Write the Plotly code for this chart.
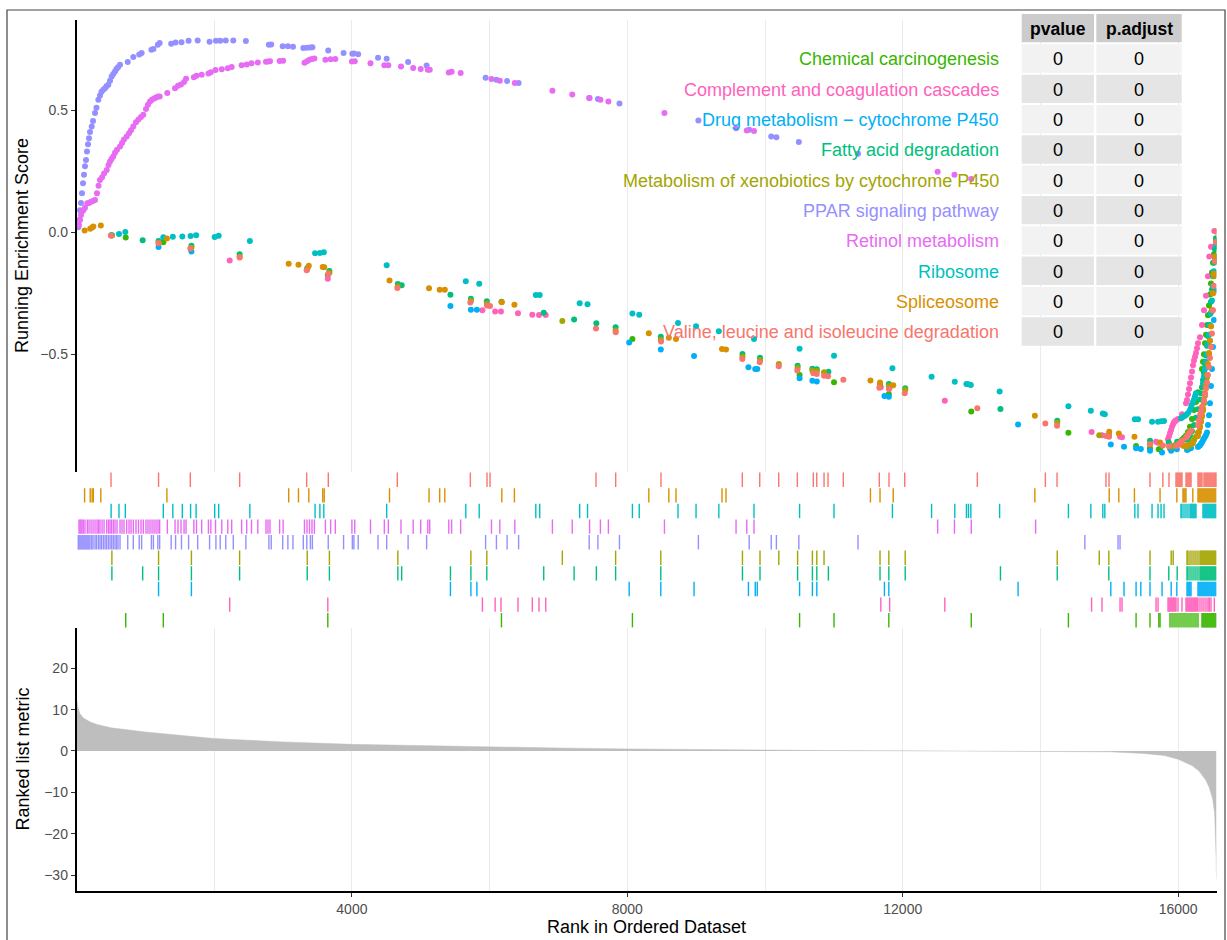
import plotly.graph_objects as go

W, H = 1227, 940
N_GENES = 16557

set_names = [
    "Chemical carcinogenesis",
    "Complement and coagulation cascades",
    "Drug metabolism \u2212 cytochrome P450",
    "Fatty acid degradation",
    "Metabolism of xenobiotics by cytochrome P450",
    "PPAR signaling pathway",
    "Retinol metabolism",
    "Ribosome",
    "Spliceosome",
    "Valine, leucine and isoleucine degradation",
]
set_colors = ["#39B600", "#FF62BC", "#00B0F6", "#00BF7D", "#A3A500",
              "#9590FF", "#E76BF3", "#00BFC4", "#D89000", "#F8766D"]
pvalue_text = ["0", "0", "0", "0", "0", "0", "0", "0", "0", "0"]
padjust_text = ["0", "0", "0", "0", "0", "0", "0", "0", "0", "0"]

# (rank of hit, running enrichment score)
chem_points = [(715, -0.022), (1261, -0.041), (3650, -0.175), (6172, -0.285), (8074, -0.437),
               (10502, -0.585), (11002, -0.614), (11798, -0.664), (12995, -0.734), (14406, -0.821),
               (15389, -0.876), (15591, -0.885), (15719, -0.889), (15737, -0.889), (15882, -0.886),
               (15911, -0.880), (15940, -0.875), (15969, -0.870), (15998, -0.864), (16027, -0.857),
               (16056, -0.850), (16085, -0.842), (16114, -0.833), (16143, -0.818), (16172, -0.797),
               (16201, -0.765), (16230, -0.728), (16259, -0.695), (16288, -0.655), (16346, -0.560),
               (16361, -0.530), (16375, -0.500), (16390, -0.455), (16404, -0.420), (16419, -0.380),
               (16433, -0.340), (16448, -0.300), (16462, -0.255), (16477, -0.210), (16491, -0.165),
               (16506, -0.125), (16520, -0.090), (16535, -0.060), (16549, -0.035)]

compl_points = [(2225, -0.116), (3650, -0.191), (5895, -0.320), (6080, -0.325), (6165, -0.325),
                (6412, -0.332), (6620, -0.338), (6717, -0.339), (6815, -0.339), (11682, -0.635),
                (11810, -0.636), (12611, -0.690), (14743, -0.818), (14894, -0.831), (15156, -0.838),
                (15185, -0.840), (15679, -0.858), (15708, -0.862), (15853, -0.848), (15868, -0.836),
                (15882, -0.822), (15897, -0.810), (15911, -0.797), (15926, -0.786), (15940, -0.778),
                (15955, -0.774), (15969, -0.770), (15998, -0.765), (16056, -0.745), (16114, -0.700),
                (16129, -0.687), (16143, -0.665), (16158, -0.642), (16172, -0.619), (16187, -0.595),
                (16201, -0.570), (16216, -0.545), (16230, -0.525), (16245, -0.510), (16259, -0.495),
                (16274, -0.475), (16288, -0.455), (16317, -0.430), (16346, -0.380), (16375, -0.320),
                (16404, -0.260), (16433, -0.180), (16452, -0.100), (16477, -0.060), (16525, 0.005)]

drug_points = [(1192, -0.061), (1669, -0.079), (5431, -0.302), (5728, -0.318), (5815, -0.318),
               (8027, -0.452), (8486, -0.480), (8969, -0.507), (9759, -0.553), (9858, -0.560),
               (9887, -0.560), (10502, -0.598), (10688, -0.608), (10752, -0.611), (11734, -0.671),
               (11798, -0.674), (13675, -0.787), (15022, -0.869), (15214, -0.879), (15389, -0.885),
               (15458, -0.888), (15591, -0.895), (15766, -0.902), (15899, -0.895), (15981, -0.889),
               (16129, -0.892), (16143, -0.889), (16158, -0.887), (16172, -0.885), (16187, -0.884),
               (16288, -0.880), (16303, -0.876), (16317, -0.872), (16332, -0.866), (16346, -0.860),
               (16361, -0.852), (16375, -0.845), (16390, -0.838), (16404, -0.830), (16419, -0.820),
               (16433, -0.790), (16448, -0.750), (16462, -0.700), (16477, -0.630), (16491, -0.560),
               (16506, -0.470), (16520, -0.360), (16535, -0.240), (16549, -0.120)]

fatty_points = [(514, -0.012), (961, -0.033), (1192, -0.036), (1669, -0.055), (2369, -0.090),
                (3351, -0.148), (3673, -0.159), (4667, -0.212), (4723, -0.217), (5431, -0.256),
                (5728, -0.273), (5959, -0.283), (6786, -0.330), (7227, -0.357), (7550, -0.373),
                (7830, -0.389), (8486, -0.428), (9672, -0.499), (9927, -0.514), (10473, -0.547),
                (10688, -0.559), (10752, -0.561), (10920, -0.571), (11670, -0.626), (11798, -0.622),
                (12036, -0.639), (13419, -0.724), (14244, -0.772), (14993, -0.829), (15591, -0.854),
                (15864, -0.861), (15986, -0.858), (16129, -0.850), (16143, -0.846), (16172, -0.835),
                (16201, -0.815), (16230, -0.790), (16259, -0.760), (16288, -0.725), (16317, -0.685),
                (16332, -0.660), (16346, -0.635), (16361, -0.605), (16375, -0.575), (16390, -0.540),
                (16404, -0.505), (16419, -0.465), (16433, -0.425), (16448, -0.380), (16462, -0.335),
                (16477, -0.285), (16491, -0.235), (16506, -0.180), (16520, -0.125), (16535, -0.070),
                (16549, -0.025)]

xeno_points = [(514, -0.013), (1192, -0.043), (1669, -0.064), (2369, -0.101), (3351, -0.152),
               (3673, -0.166), (4667, -0.222), (5728, -0.281), (5959, -0.293), (7056, -0.364),
               (7830, -0.403), (8486, -0.440), (9672, -0.510), (9927, -0.524), (10200, -0.540),
               (10473, -0.556), (10688, -0.566), (10752, -0.568), (10857, -0.573), (11670, -0.624),
               (11798, -0.630), (12036, -0.645), (14244, -0.780), (14854, -0.831), (14993, -0.835),
               (15591, -0.868), (15899, -0.878), (15928, -0.876), (16129, -0.879), (16143, -0.876),
               (16172, -0.870), (16201, -0.862), (16230, -0.852), (16259, -0.838), (16288, -0.820),
               (16317, -0.795), (16332, -0.775), (16346, -0.755), (16361, -0.730), (16375, -0.700),
               (16390, -0.670), (16404, -0.635), (16419, -0.595), (16433, -0.550), (16448, -0.500),
               (16462, -0.445), (16477, -0.385), (16491, -0.320), (16506, -0.250), (16520, -0.180),
               (16535, -0.110), (16549, -0.045)]

ppar_points = [(26, 0.020), (36, 0.050), (51, 0.090), (65, 0.120), (80, 0.160), (94, 0.200),
               (109, 0.235), (123, 0.270), (138, 0.296), (152, 0.330), (167, 0.360), (182, 0.385),
               (196, 0.410), (221, 0.433), (240, 0.455), (269, 0.488), (290, 0.510), (317, 0.542),
               (341, 0.560), (363, 0.575), (389, 0.583), (414, 0.590), (436, 0.598), (462, 0.604),
               (487, 0.620), (511, 0.638), (534, 0.648), (559, 0.658), (581, 0.668), (603, 0.676),
               (632, 0.686), (744, 0.697), (825, 0.717), (911, 0.728), (946, 0.734), (1088, 0.747),
               (1117, 0.750), (1181, 0.768), (1208, 0.775), (1375, 0.772), (1439, 0.777),
               (1525, 0.778), (1628, 0.784), (1760, 0.785), (1933, 0.780), (2025, 0.784),
               (2087, 0.784), (2168, 0.785), (2277, 0.785), (2460, 0.783), (2794, 0.768),
               (2828, 0.769), (2995, 0.761), (3070, 0.761), (3144, 0.759), (3294, 0.754),
               (3345, 0.755), (3397, 0.756), (3426, 0.757), (3656, 0.744), (3879, 0.734),
               (4006, 0.731), (4029, 0.732), (4091, 0.729), (4379, 0.714), (4505, 0.710),
               (4816, 0.697), (5085, 0.683), (5942, 0.632), (6099, 0.624), (6254, 0.619),
               (6421, 0.611), (7446, 0.550), (7573, 0.545), (7886, 0.527), (9032, 0.457),
               (9770, 0.420), (10090, 0.392), (10165, 0.389), (10491, 0.369), (11350, 0.321),
               (14645, 0.185), (15127, 0.170), (15156, 0.172)]

retinol_points = [(36, 0.030), (51, 0.050), (65, 0.070), (80, 0.085), (99, 0.090), (123, 0.100),
                  (157, 0.119), (182, 0.120), (211, 0.125), (240, 0.128), (269, 0.132), (298, 0.160),
                  (320, 0.190), (341, 0.214), (371, 0.225), (400, 0.240), (439, 0.255), (465, 0.275),
                  (487, 0.290), (508, 0.300), (534, 0.310), (559, 0.325), (588, 0.338), (632, 0.351),
                  (661, 0.365), (690, 0.380), (729, 0.392), (763, 0.405), (792, 0.418), (825, 0.433),
                  (864, 0.450), (900, 0.462), (937, 0.472), (970, 0.481), (1009, 0.505), (1038, 0.522),
                  (1067, 0.535), (1097, 0.542), (1126, 0.548), (1155, 0.552), (1184, 0.556),
                  (1208, 0.556), (1319, 0.570), (1431, 0.590), (1474, 0.600), (1518, 0.605),
                  (1562, 0.615), (1591, 0.628), (1704, 0.635), (1743, 0.641), (1818, 0.645),
                  (1916, 0.650), (1951, 0.655), (2019, 0.664), (2110, 0.667), (2197, 0.671),
                  (2254, 0.677), (2398, 0.684), (2472, 0.687), (2542, 0.692), (2633, 0.695),
                  (2752, 0.698), (2781, 0.699), (2810, 0.700), (2950, 0.701), (3001, 0.702),
                  (3311, 0.694), (3348, 0.700), (3384, 0.706), (3420, 0.709), (3455, 0.711),
                  (3615, 0.706), (3691, 0.708), (3759, 0.709), (4000, 0.699), (4041, 0.700),
                  (4270, 0.692), (4471, 0.684), (4529, 0.684), (4713, 0.679), (4890, 0.672),
                  (4999, 0.668), (5102, 0.665), (5130, 0.665), (5407, 0.654), (5448, 0.657),
                  (5579, 0.652), (6027, 0.627), (6148, 0.620), (6366, 0.611), (6912, 0.579),
                  (7200, 0.564), (7452, 0.550), (7609, 0.542), (7725, 0.535), (8539, 0.488),
                  (9579, 0.426), (9735, 0.416), (9840, 0.414), (12507, 0.248), (12751, 0.235),
                  (12995, 0.218), (13930, 0.190)]

ribo_points = [(503, -0.012), (617, -0.007), (709, 0.001), (1261, -0.021), (1399, -0.019),
               (1537, -0.018), (1657, -0.016), (1737, -0.012), (2007, -0.020), (2065, -0.015),
               (2518, -0.036), (3465, -0.086), (3535, -0.085), (3592, -0.082), (4505, -0.135),
               (5654, -0.201), (5849, -0.211), (6671, -0.257), (6728, -0.257), (7308, -0.291),
               (7422, -0.295), (8074, -0.333), (8173, -0.338), (8736, -0.372), (8998, -0.385),
               (9329, -0.406), (9840, -0.437), (10502, -0.477), (11002, -0.506), (11850, -0.557),
               (12419, -0.592), (12756, -0.612), (12925, -0.622), (12954, -0.623), (12989, -0.626),
               (13407, -0.652), (14406, -0.713), (14732, -0.731), (14906, -0.742), (14935, -0.745),
               (15371, -0.766), (15417, -0.766), (15621, -0.776), (15708, -0.776), (15752, -0.774),
               (15795, -0.773), (16041, -0.762), (16056, -0.759), (16085, -0.754), (16114, -0.749),
               (16143, -0.740), (16172, -0.728), (16187, -0.718), (16201, -0.705), (16216, -0.695),
               (16230, -0.685), (16245, -0.672), (16259, -0.660), (16361, -0.620), (16375, -0.590),
               (16390, -0.560), (16404, -0.530), (16419, -0.500), (16433, -0.460), (16448, -0.420),
               (16462, -0.380), (16477, -0.330), (16491, -0.280), (16506, -0.220), (16520, -0.160),
               (16535, -0.100), (16549, -0.050)]

splice_points = [(118, 0.007), (199, 0.014), (227, 0.019), (244, 0.023), (353, 0.027),
                 (1313, -0.026), (3082, -0.129), (3224, -0.133), (3374, -0.137), (3576, -0.142),
                 (3598, -0.144), (4546, -0.198), (5120, -0.230), (5275, -0.236), (5349, -0.236),
                 (6177, -0.287), (6360, -0.297), (8312, -0.414), (8603, -0.432), (8707, -0.437),
                 (9375, -0.478), (9433, -0.480), (11531, -0.607), (11670, -0.615), (11862, -0.627),
                 (13919, -0.752), (14999, -0.817), (15138, -0.824), (15365, -0.838), (15737, -0.861),
                 (15981, -0.872), (16070, -0.874), (16084, -0.873), (16099, -0.874), (16114, -0.875),
                 (16213, -0.865), (16288, -0.835), (16303, -0.818), (16317, -0.800), (16332, -0.775),
                 (16346, -0.750), (16361, -0.722), (16375, -0.690), (16390, -0.660), (16404, -0.625),
                 (16419, -0.585), (16433, -0.540), (16448, -0.495), (16462, -0.445), (16477, -0.385),
                 (16491, -0.320), (16506, -0.250), (16520, -0.170), (16535, -0.100), (16549, -0.040)]

valine_points = [(501, -0.015), (1192, -0.045), (1653, -0.067), (2370, -0.104), (3343, -0.156),
                 (3657, -0.171), (4659, -0.228), (5720, -0.288), (5962, -0.300), (6006, -0.302),
                 (7545, -0.394), (7831, -0.410), (8489, -0.448), (9670, -0.519), (9923, -0.533),
                 (10199, -0.549), (10469, -0.566), (10701, -0.578), (10751, -0.581), (10857, -0.588),
                 (10915, -0.590), (11137, -0.604), (11660, -0.637), (11801, -0.643), (12029, -0.659),
                 (13083, -0.721), (14071, -0.783), (14241, -0.793), (14952, -0.835), (14996, -0.838),
                 (15591, -0.868), (15778, -0.873), (15867, -0.877), (15969, -0.876), (15983, -0.873),
                 (15998, -0.870), (16012, -0.866), (16027, -0.862), (16041, -0.858), (16056, -0.854),
                 (16114, -0.842), (16129, -0.836), (16143, -0.830), (16158, -0.824), (16172, -0.818),
                 (16187, -0.812), (16288, -0.790), (16303, -0.770), (16317, -0.750), (16332, -0.732),
                 (16346, -0.715), (16375, -0.690), (16390, -0.665), (16404, -0.640), (16419, -0.615),
                 (16433, -0.585), (16448, -0.552), (16462, -0.515), (16477, -0.470), (16491, -0.415),
                 (16506, -0.320), (16520, -0.220), (16535, -0.120), (16549, -0.040), (16555, 0.002)]

set_points = [chem_points, compl_points, drug_points, fatty_points, xeno_points,
              ppar_points, retinol_points, ribo_points, splice_points, valine_points]

# ranked list metric, read at sample ranks
metric_rank = [0, 20, 50, 100, 200, 300, 500, 800, 1000, 1500, 2000, 2500, 3000, 4000, 5000,
               6000, 7000, 8000, 9000, 10000, 11000, 12000, 13000, 13100, 14150, 14500, 15000,
               15500, 15800, 16000, 16200, 16300, 16400, 16450, 16500, 16530, 16545, 16552, 16557]
metric_value = [12.7, 10.5, 9.0, 8.0, 7.0, 6.4, 5.6, 5.0, 4.6, 3.8, 3.0, 2.6, 2.2, 1.6, 1.25,
                1.0, 0.72, 0.5, 0.33, 0.2, 0.1, 0.04, 0.005, 0.0, 0.0, -0.05, -0.2,
                -0.6, -1.1, -2.0, -3.5, -4.8, -7.0, -8.8, -11.5, -15.0, -20.0, -26.0, -31.0]

FONT = "Liberation Sans, Arial, sans-serif"


def px(x):
    return x / W


def py(y):
    return 1 - y / H


x_dom = [px(76.5), px(1216.5)]
grid_col = "#EBEBEB"

fig = go.Figure()

# ranked list metric
fig.add_trace(go.Scatter(x=metric_rank, y=metric_value, mode="lines", fill="tozeroy",
                         fillcolor="#BEBEBE", line=dict(color="#BEBEBE", width=0.5),
                         xaxis="x3", yaxis="y3", showlegend=False, hoverinfo="skip"))

# running enrichment score points and rug
for i, (name, col, pts) in enumerate(zip(set_names, set_colors, set_points)):
    xs = [p[0] for p in pts]
    ys = [p[1] for p in pts]
    fig.add_trace(go.Scatter(x=xs, y=ys, mode="markers", marker=dict(color=col, size=6),
                             xaxis="x", yaxis="y", name=name, showlegend=False))
    rx, ry = [], []
    for r in xs:
        rx += [r, r, None]
        ry += [i + 0.04, i + 0.96, None]
    fig.add_trace(go.Scatter(x=rx, y=ry, mode="lines", line=dict(color=col, width=1.4),
                             xaxis="x2", yaxis="y2", showlegend=False, hoverinfo="skip"))

shapes = []
annotations = []

LABEL_SIZE = 18
TICK_SIZE = 14

# table
col1 = (1021.7, 1094.0)
col2 = (1096.3, 1181.7)
hdr_top, hdr_bot = 14.0, 42.3
row_top0, row_pitch, row_h = 44.3, 30.33, 28.4
for c in (col1, col2):
    shapes.append(dict(type="rect", xref="paper", yref="paper", x0=px(c[0]), x1=px(c[1]),
                       y0=py(hdr_bot), y1=py(hdr_top), fillcolor="#CCCCCC",
                       line=dict(width=0), layer="above"))
for k in range(len(set_names)):
    t = row_top0 + k * row_pitch
    fill = "#F2F2F2" if k % 2 == 0 else "#E5E5E5"
    for c in (col1, col2):
        shapes.append(dict(type="rect", xref="paper", yref="paper", x0=px(c[0]), x1=px(c[1]),
                           y0=py(t + row_h), y1=py(t), fillcolor=fill,
                           line=dict(width=0), layer="above"))
    # white row separators across the label column
    shapes.append(dict(type="line", xref="paper", yref="paper", x0=px(612), x1=px(1021.7),
                       y0=py(t - 1), y1=py(t - 1), line=dict(color="white", width=2),
                       layer="between"))
    cy = py(t + row_h / 2 + 0.8)
    annotations.append(dict(x=px(1001), y=cy, xref="paper", yref="paper", text=set_names[k],
                            showarrow=False, xanchor="right", yanchor="middle",
                            font=dict(size=LABEL_SIZE, color=set_colors[k], family=FONT)))
    annotations.append(dict(x=px((col1[0] + col1[1]) / 2), y=cy, xref="paper", yref="paper",
                            text=pvalue_text[k], showarrow=False, xanchor="center",
                            yanchor="middle", font=dict(size=LABEL_SIZE, color="black", family=FONT)))
    annotations.append(dict(x=px((col2[0] + col2[1]) / 2), y=cy, xref="paper", yref="paper",
                            text=padjust_text[k], showarrow=False, xanchor="center",
                            yanchor="middle", font=dict(size=LABEL_SIZE, color="black", family=FONT)))
shapes.append(dict(type="line", xref="paper", yref="paper", x0=px(612), x1=px(1021.7),
                   y0=py(row_top0 + 10 * row_pitch - 1), y1=py(row_top0 + 10 * row_pitch - 1),
                   line=dict(color="white", width=2), layer="between"))
for c, txt in ((col1, "pvalue"), (col2, "p.adjust")):
    annotations.append(dict(x=px((c[0] + c[1]) / 2), y=py((hdr_top + hdr_bot) / 2 + 0.8),
                            xref="paper", yref="paper", text="<b>" + txt + "</b>",
                            showarrow=False, xanchor="center", yanchor="middle",
                            font=dict(size=17.5, color="black", family=FONT)))

# outer border
shapes.append(dict(type="rect", xref="paper", yref="paper", x0=px(7), x1=px(1225),
                   y0=-0.02, y1=py(10), line=dict(color="#444444", width=1.2),
                   fillcolor="rgba(0,0,0,0)", layer="above"))

# axis titles
annotations.append(dict(x=px(22), y=py(246), xref="paper", yref="paper",
                        text="Running Enrichment Score", textangle=-90, showarrow=False,
                        xanchor="center", yanchor="middle",
                        font=dict(size=LABEL_SIZE, color="black", family=FONT)))
annotations.append(dict(x=px(22), y=py(759.5), xref="paper", yref="paper",
                        text="Ranked list metric", textangle=-90, showarrow=False,
                        xanchor="center", yanchor="middle",
                        font=dict(size=LABEL_SIZE, color="black", family=FONT)))
annotations.append(dict(x=px(646.5), y=py(927), xref="paper", yref="paper",
                        text="Rank in Ordered Dataset", showarrow=False,
                        xanchor="center", yanchor="middle",
                        font=dict(size=LABEL_SIZE, color="black", family=FONT)))

tickfont = dict(size=TICK_SIZE, color="#4D4D4D", family=FONT)
minor_grid = dict(dtick=2000, tick0=0, showgrid=True, gridcolor=grid_col, gridwidth=1, ticklen=0)

fig.update_layout(
    width=W, height=H, autosize=False,
    margin=dict(l=0, r=0, t=0, b=0, pad=0),
    template="none",
    paper_bgcolor="white", plot_bgcolor="white",
    font=dict(family=FONT),
    showlegend=False,
    shapes=shapes, annotations=annotations,
    xaxis=dict(domain=x_dom, range=[0, N_GENES], anchor="y", showgrid=True, gridcolor=grid_col,
               gridwidth=1, dtick=4000, tick0=0, minor=minor_grid, showticklabels=False,
               ticks="", showline=False, zeroline=False, automargin=False),
    yaxis=dict(domain=[py(472), py(20)], range=[-0.982, 0.869], anchor="x",
               tickvals=[-0.5, 0.0, 0.5], tickformat=".1f", showgrid=False, zeroline=False,
               showline=True, linecolor="black", linewidth=1.5, ticks="outside", ticklen=4,
               tickwidth=1, tickcolor="#333333", tickfont=tickfont, automargin=False),
    xaxis2=dict(domain=x_dom, range=[0, N_GENES], anchor="y2", visible=False),
    yaxis2=dict(domain=[py(628), py(472)], range=[0, 10], anchor="x2", visible=False),
    xaxis3=dict(domain=x_dom, range=[0, N_GENES], anchor="y3", showgrid=True, gridcolor=grid_col,
                gridwidth=1, tickvals=[4000, 8000, 12000, 16000], tickformat="d",
                minor=minor_grid, ticks="outside", ticklen=4, tickwidth=1, tickcolor="#333333",
                tickfont=tickfont, showline=True, linecolor="black", linewidth=1.5,
                zeroline=False, automargin=False),
    yaxis3=dict(domain=[py(891), py(628)], range=[-33.87, 29.75], anchor="x3",
                tickvals=[-30, -20, -10, 0, 10, 20], showgrid=False, zeroline=False,
                showline=True, linecolor="black", linewidth=1.5, ticks="outside", ticklen=4,
                tickwidth=1, tickcolor="#333333", tickfont=tickfont, automargin=False),
)

fig.write_html("out.html")
